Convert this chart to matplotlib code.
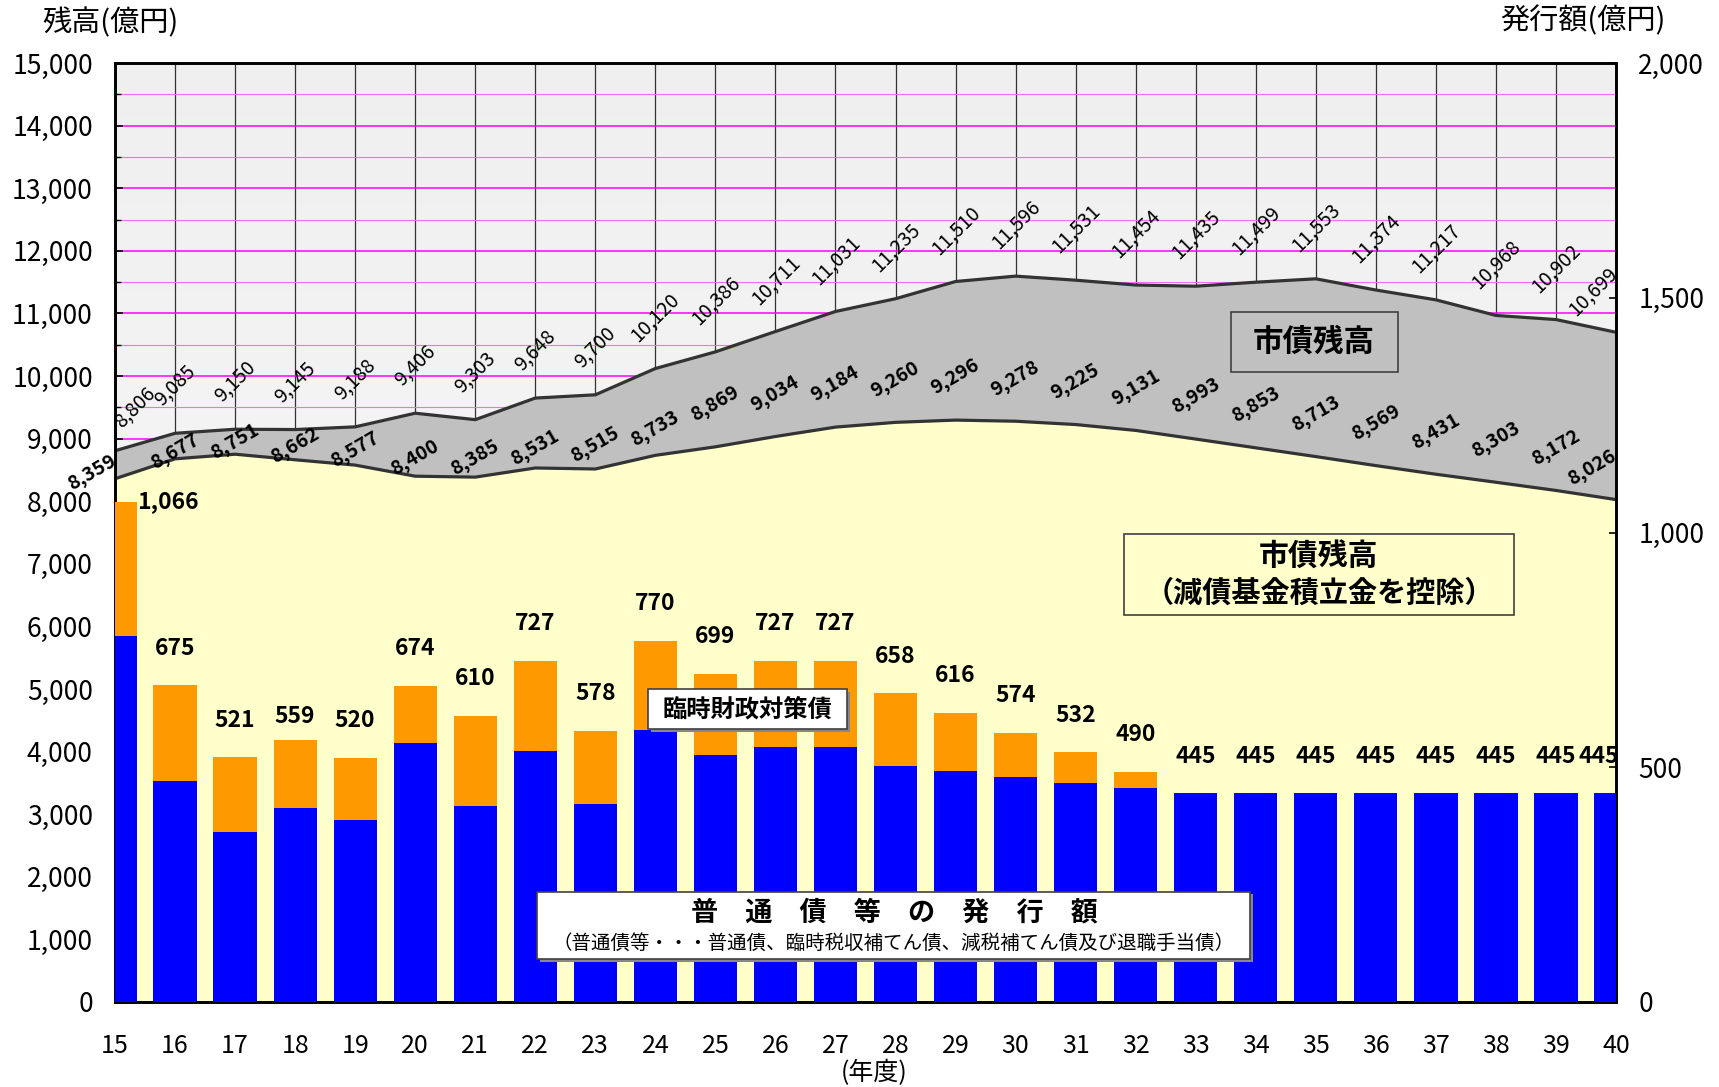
import numpy as np
import matplotlib
matplotlib.use("Agg")
import matplotlib.pyplot as plt
from matplotlib.patches import Rectangle
from matplotlib.ticker import FuncFormatter, MultipleLocator

plt.rcParams['font.family'] = ['Noto Sans CJK JP', 'DejaVu Sans']

# ---------------- data ----------------
years = list(range(15, 41))
year_labels = [str(y) for y in years]
gross_balance = [8806, 9085, 9150, 9145, 9188, 9406, 9303, 9648, 9700, 10120,
                 10386, 10711, 11031, 11235, 11510, 11596, 11531, 11454, 11435,
                 11499, 11553, 11374, 11217, 10968, 10902, 10699]
net_balance = [8359, 8677, 8751, 8662, 8577, 8400, 8385, 8531, 8515, 8733,
               8869, 9034, 9184, 9260, 9296, 9278, 9225, 9131, 8993, 8853,
               8713, 8569, 8431, 8303, 8172, 8026]
issue_total = [1066, 675, 521, 559, 520, 674, 610, 727, 578, 770, 699, 727,
               727, 658, 616, 574, 532, 490, 445, 445, 445, 445, 445, 445, 445, 445]
issue_regular = [780, 471, 362, 413, 388, 552, 417, 535, 422, 580, 526, 543,
                 543, 503, 492, 479, 466, 456, 445, 445, 445, 445, 445, 445, 445, 445]
issue_special = [t - r for t, r in zip(issue_total, issue_regular)]

# label offsets (pixels) – styling only
net_label_dy = [6, 7.5, 13, 14, 15, 18.5, 19, 20.5, 24.5, 27] + [43] * 15 + [32]
net_label_dx = {0: -23, 25: -24}
gross_label_off = {0: (20, 19), 25: (-23, 12)}
bar_label_off = {0: (53, 0), 3: (0, 23), 25: (-17, 37)}

# ---------------- figure ----------------
fig = plt.figure(figsize=(17.19, 10.87), dpi=100)
ax = fig.add_axes([0.0669, 0.0782, 0.8732, 0.8638])

# background gradient
grad = np.linspace(0.935, 0.978, 256)[:, None]
ax.imshow(grad, cmap='gray', vmin=0, vmax=1, origin='upper', aspect='auto',
          extent=[15, 40, 0, 15000], zorder=0)

ax.fill_between(years, 0, net_balance, color='#ffffcc', zorder=2, lw=0)
ax.fill_between(years, net_balance, gross_balance, color='#c0c0c0', zorder=2, lw=0)
ax.plot(years, gross_balance, color='#333333', lw=2.3, zorder=3, solid_joinstyle='round')
ax.plot(years, net_balance, color='#333333', lw=2.3, zorder=3, solid_joinstyle='round')

ax.set_xlim(15, 40)
ax.set_ylim(0, 15000)
ax.set_xticks(years)
ax.set_xticklabels(year_labels)
ax.yaxis.set_major_locator(MultipleLocator(1000))
ax.yaxis.set_minor_locator(MultipleLocator(500))
ax.yaxis.set_major_formatter(FuncFormatter(lambda v, p: f"{int(v):,}"))
ax.set_axisbelow(True)
ax.yaxis.grid(True, which='major', color='#ff00ff', lw=1.1)
ax.yaxis.grid(True, which='minor', color='#ff66ff', lw=0.8)
ax.xaxis.grid(True, which='major', color='#333333', lw=0.9)
ax.tick_params(axis='x', direction='in', length=7, width=1, pad=22, labelsize=18)
ax.tick_params(axis='y', which='major', direction='in', length=6, width=1.2, pad=16, labelsize=19)
ax.tick_params(axis='y', which='minor', direction='in', length=4, width=1)
for s in ax.spines.values():
    s.set_linewidth(1.9)
    s.set_color('black')

# gross labels
for i, (x, v) in enumerate(zip(years, gross_balance)):
    if i in gross_label_off:
        dx, dy = gross_label_off[i]
    else:
        dx, dy = 0, 23
    ax.annotate(f"{v:,}", (x, v), xytext=(dx, dy), textcoords='offset pixels',
                ha='center', va='bottom', rotation=45, fontsize=14,
                color='black', zorder=5, annotation_clip=False)

# net labels
for i, (x, v) in enumerate(zip(years, net_balance)):
    dx = net_label_dx.get(i, 0)
    ax.annotate(f"{v:,}", (x, v), xytext=(dx, net_label_dy[i]), textcoords='offset pixels',
                ha='center', va='center', rotation=30, fontsize=14, fontweight='bold',
                color='black', zorder=5, annotation_clip=False)

# ---------------- bars on right axis ----------------
ax2 = ax.twinx()
ax2.set_ylim(0, 2000)
ax2.bar(years, issue_regular, width=0.72, color='#0000ff', zorder=3)
ax2.bar(years, issue_special, bottom=issue_regular, width=0.72, color='#ff9900', zorder=3)
ax2.set_yticks([0, 500, 1000, 1500, 2000])
ax2.yaxis.set_major_formatter(FuncFormatter(lambda v, p: f"{int(v):,}"))
ax2.tick_params(axis='y', direction='in', length=5, width=1.2, pad=16, labelsize=19)
for s in ax2.spines.values():
    s.set_linewidth(1.9)
    s.set_color('black')

for i, (x, v) in enumerate(zip(years, issue_total)):
    dx, dy = bar_label_off.get(i, (0, 37))
    ax2.annotate(f"{v:,}", (x, v), xytext=(dx, dy), textcoords='offset pixels',
                 ha='center', va='center', fontsize=16.5, fontweight='bold',
                 color='black', zorder=6, annotation_clip=False)

# ---------------- boxes ----------------
def box(x0, y0, x1, y1, fc, shadow=False):
    if shadow:
        ax2.add_patch(Rectangle((x0 + 0.002, y1 - 0.003), x1 - x0, y0 - y1,
                                transform=ax2.transAxes, fc='#888888', ec='none', zorder=7))
    ax2.add_patch(Rectangle((x0, y1), x1 - x0, y0 - y1, transform=ax2.transAxes,
                            fc=fc, ec='#404040', lw=1.2, zorder=8))

box(0.7432, 0.7348, 0.8548, 0.6709, '#c0c0c0')
ax2.text(0.7988, 0.7029, "市債残高", transform=ax2.transAxes, ha='center', va='center',
         fontsize=22, fontweight='bold', zorder=9)

box(0.6725, 0.4981, 0.9317, 0.4121, '#ffffcc')
ax2.text(0.8021, 0.4739, "市債残高", transform=ax2.transAxes, ha='center', va='center',
         fontsize=21.5, fontweight='bold', zorder=9)
ax2.text(0.8021, 0.4356, "（減債基金積立金を控除）", transform=ax2.transAxes, ha='center',
         va='center', fontsize=21, fontweight='bold', zorder=9)

box(0.3548, 0.3333, 0.4879, 0.2904, 'white', shadow=True)
ax2.text(0.4214, 0.3120, "臨時財政対策債", transform=ax2.transAxes, ha='center', va='center',
         fontsize=17.5, fontweight='bold', zorder=9)

box(0.2811, 0.1175, 0.7562, 0.0458, 'white', shadow=True)
ax2.text(0.5190, 0.0948, "普　通　債　等　の　発　行　額", transform=ax2.transAxes, ha='center',
         va='center', fontsize=19.5, fontweight='bold', zorder=9)
ax2.text(0.5190, 0.0628, "（普通債等・・・普通債、臨時税収補てん債、減税補てん債及び退職手当債）",
         transform=ax2.transAxes, ha='center', va='center', fontsize=14, zorder=9)

# ---------------- outer labels ----------------
fig.text(0.064, 0.9784, "残高(億円)", ha='center', va='center', fontsize=21)
fig.text(0.921, 0.9802, "発行額(億円)", ha='center', va='center', fontsize=21)
fig.text(0.5084, 0.0129, "(年度)", ha='center', va='center', fontsize=18)

fig.savefig("out.png", dpi=100)
